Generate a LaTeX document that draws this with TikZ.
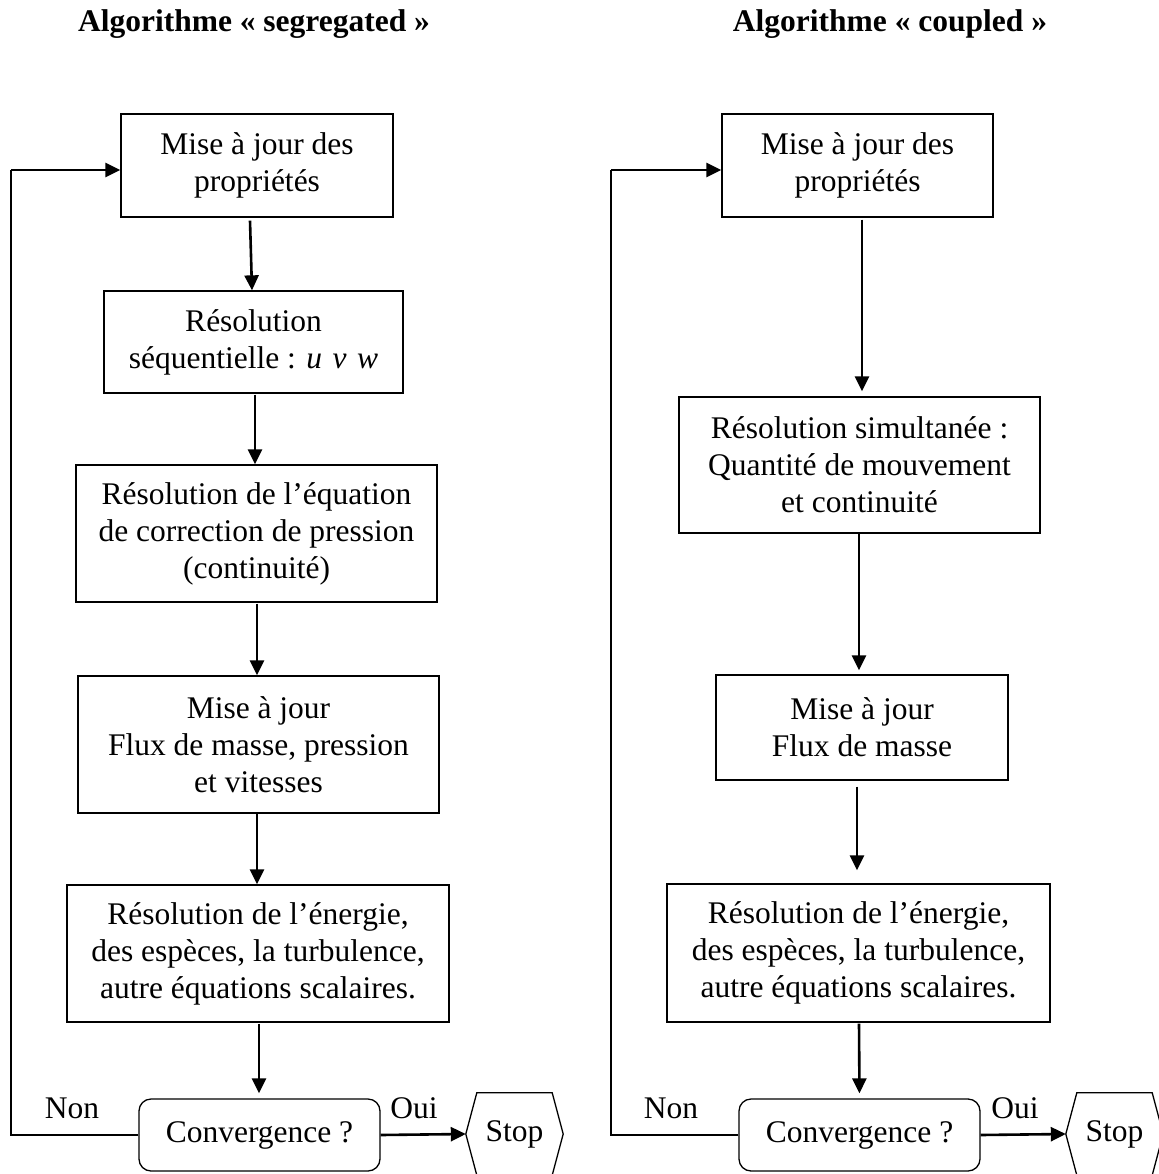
\documentclass[tikz,border=0pt]{standalone}
\usepackage{fontspec}
\setmainfont{Liberation Serif}
\usetikzlibrary{arrows.meta,calc}
\tikzset{
  box/.style={draw=black, line width=1.3pt, inner sep=0pt, align=center,
    font=\fontsize{31.5}{37}\selectfont},
  convbox/.style={box, rounded corners=12pt},
  lbl/.style={inner sep=0pt, font=\fontsize{31.5}{37}\selectfont},
  ttl/.style={inner sep=0pt, font=\fontsize{31.5}{37}\selectfont\bfseries},
  arr/.style={line width=2.6pt, -{Triangle[length=15pt,width=14pt]}},
  fb/.style={line width=1.4pt},
  hexa/.style={line width=1.3pt}
}
\begin{document}
\begin{tikzpicture}[x=1pt,y=-1pt]
\useasboundingbox[fill=white] (0,0) rectangle (1158,1174);

% titles
\node[ttl] (TL) at (254,24) {Algorithme « segregated »};
\node[ttl] (TR) at (890,24) {Algorithme « coupled »};

% ---------------- left column ----------------
\node[box, minimum width=272pt, minimum height=103pt] (L1) at (257,165.5) {Mise à jour des\\propriétés};
\node[box, minimum width=299pt, minimum height=102pt] (L2) at (253.5,342) {Résolution\\séquentielle : \textit{u\,\,v\,\,w}};
\node[box, minimum width=361pt, minimum height=137pt] (L3) at (256.5,533.5) {Résolution de l’équation\\de correction de pression\\(continuité)};
\node[box, minimum width=361pt, minimum height=137pt] (L4) at (258.5,744.5) {Mise à jour\\Flux de masse, pression\\et vitesses};
\node[box, minimum width=382pt, minimum height=137pt] (L5) at (258,953.5) {Résolution de l’énergie,\\des espèces, la turbulence,\\autre équations scalaires.};
\node[convbox, minimum width=241pt, minimum height=72pt] (CL) at (259.5,1135) {Convergence ?};
\node[lbl, minimum width=97pt, minimum height=82pt] (SL) at (514.5,1134) {Stop};
\draw[hexa] (SL.west) -- ([xshift=11pt]SL.north west) -- ([xshift=-11pt]SL.north east)
  -- (SL.east) -- ([xshift=-11pt]SL.south east) -- ([xshift=11pt]SL.south west) -- cycle;
\node[lbl] (NonL) at (72,1108) {Non};
\node[lbl] (OuiL) at (414,1108) {Oui};
\coordinate (FL) at (11,170);

\draw[arr] ([xshift=-7pt,yshift=-3pt]L1.south) -- ([xshift=-1.5pt]L2.north);
\draw[arr] ([xshift=1.5pt,yshift=-1pt]L2.south) -- ([xshift=-1.5pt]L3.north);
\draw[arr] ([xshift=0.5pt,yshift=-1pt]L3.south) -- ([xshift=-1.5pt]L4.north);
\draw[arr] ([xshift=-1.5pt]L4.south) -- ([xshift=-1pt]L5.north);
\draw[arr, shorten >=5pt] ([xshift=1pt,yshift=-1pt]L5.south) -- ([xshift=-0.5pt]CL.north);
\draw[arr] (CL.east) -- (SL.west);
\draw[fb] (CL.west) -| (FL);
\draw[arr] (FL) -- (FL -| L1.west);

% ---------------- right column ----------------
\node[box, minimum width=271pt, minimum height=103pt] (R1) at (857.5,165.5) {Mise à jour des\\propriétés};
\node[box, minimum width=361pt, minimum height=136pt] (R2) at (859.5,465) {Résolution simultanée :\\Quantité de mouvement\\et continuité};
\node[box, minimum width=292pt, minimum height=105pt] (R3) at (862,727.5) {Mise à jour\\Flux de masse};
\node[box, minimum width=383pt, minimum height=138pt] (R4) at (858.5,953) {Résolution de l’énergie,\\des espèces, la turbulence,\\autre équations scalaires.};
\node[convbox, minimum width=241pt, minimum height=72pt] (CR) at (859.5,1135) {Convergence ?};
\node[lbl, minimum width=97pt, minimum height=82pt] (SR) at (1114.5,1134) {Stop};
\draw[hexa] (SR.west) -- ([xshift=11pt]SR.north west) -- ([xshift=-11pt]SR.north east)
  -- (SR.east) -- ([xshift=-11pt]SR.south east) -- ([xshift=11pt]SR.south west) -- cycle;
\node[lbl] (NonR) at (671,1108) {Non};
\node[lbl] (OuiR) at (1015,1108) {Oui};
\coordinate (FR) at (611,170);

\draw[arr, shorten >=5pt] ([xshift=4.5pt,yshift=-2pt]R1.south) -- ([xshift=2.5pt]R2.north);
\draw[arr, shorten >=4pt] ([xshift=-0.5pt]R2.south) -- ([xshift=-3pt]R3.north);
\draw[arr, shorten >=13pt] ([xshift=-5pt,yshift=-6pt]R3.south) -- ([xshift=-1.5pt]R4.north);
\draw[arr, shorten >=5pt] ([xshift=0.5pt,yshift=-1pt]R4.south) -- (CR.north);
\draw[arr] (CR.east) -- (SR.west);
\draw[fb] (CR.west) -| (FR);
\draw[arr] (FR) -- (FR -| R1.west);
\end{tikzpicture}
\end{document}
